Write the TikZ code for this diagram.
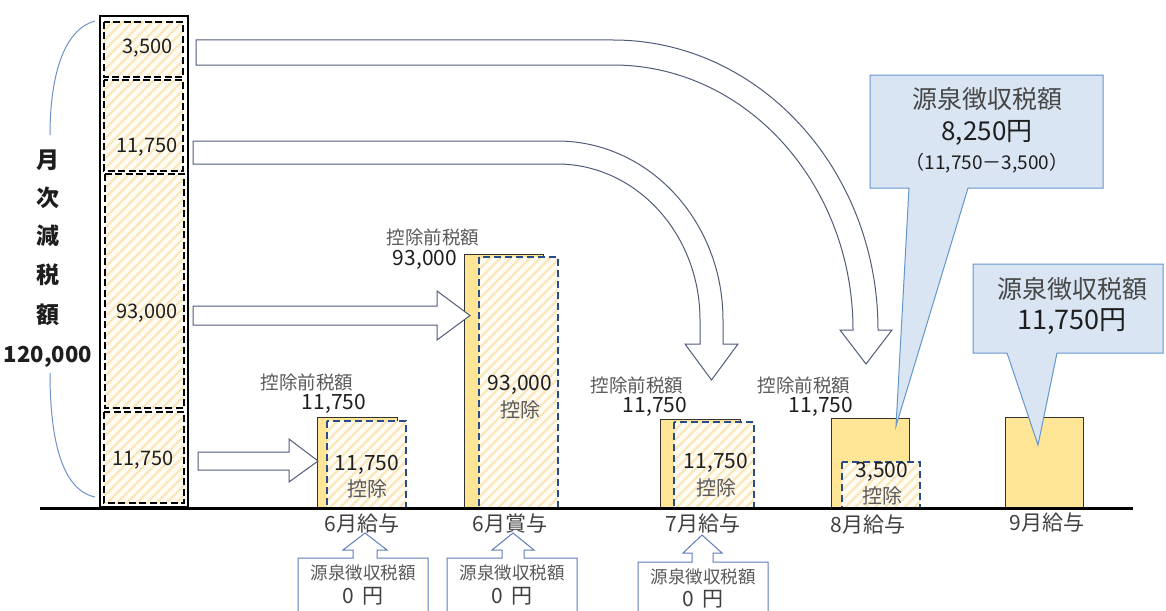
\documentclass[tikz,border=0pt]{standalone}
\usepackage{fontspec}
\setmainfont{Noto Sans CJK JP}
\usetikzlibrary{patterns.meta}
\definecolor{baryel}{RGB}{255,229,150}
\definecolor{cream}{RGB}{255,252,244}
\definecolor{hatchc}{RGB}{250,230,186}
\definecolor{dashblue}{RGB}{40,75,140}
\definecolor{arrowc}{RGB}{80,92,120}
\definecolor{calfill}{RGB}{218,229,243}
\definecolor{caledge}{RGB}{100,150,205}
\definecolor{boxedge}{RGB}{95,125,185}
\definecolor{graytxt}{RGB}{89,89,89}
\definecolor{darktxt}{RGB}{30,30,30}
\definecolor{bracec}{RGB}{110,145,200}
\newcommand\myfs[1]{\fontsize{#1}{#1}\selectfont}
\tikzset{
  yelbar/.style={fill=baryel, draw=black!80, line width=0.8pt},
  hatchbox/.style={preaction={fill=cream}, preaction={pattern={Lines[angle=45,distance=7pt,line width=2.2pt]}, pattern color=hatchc}},
  bluedash/.style={hatchbox, draw=dashblue, line width=2pt, dash pattern=on 7pt off 4pt},
  blackdash/.style={hatchbox, draw=black, line width=2.2pt, dash pattern=on 7pt off 3.5pt},
  blockarrow/.style={draw=arrowc, fill=white, line width=1pt, line join=miter},
  callout/.style={draw=caledge, fill=calfill, line width=1pt, line join=miter},
  upbox/.style={draw=boxedge, fill=white, line width=1pt, line join=miter},
  txt/.style={inner sep=0pt, anchor=center},
  lbl/.style={txt, text=graytxt, font=\myfs{18.5}},
  num/.style={txt, text=darktxt, font=\myfs{21}},
  colnum/.style={txt, anchor=east, text=darktxt, font=\myfs{20}},
  vert/.style={txt, text=darktxt, font=\bfseries\myfs{23}},
  month/.style={txt, text=darktxt!85, font=\myfs{21}},
}
\begin{document}
\begin{tikzpicture}[x=1pt,y=-1pt]
\useasboundingbox (0,0) rectangle (1166,610);
\clip (0,0) rectangle (1166,610);
\fill[white] (0,0) rectangle (1166,610);

% ---------- left column ----------
\draw[black, line width=2.4pt, fill=white] (100,16) rectangle (188,507);
\path[blackdash] (104,22) rectangle (183,77);
\path[blackdash] (104,80) rectangle (183,171);
\path[blackdash] (105,174) rectangle (184,408);
\path[blackdash] (104,412) rectangle (184,503);
\node[colnum] (c1) at (173,48) {3,500};
\node[colnum] (c2) at (178,147) {11,750};
\node[colnum] (c3) at (178,313) {93,000};
\node[colnum] (c4) at (174,460) {11,750};

% brace
\draw[bracec, line width=1pt] (95,21) .. controls (62,30) and (50,80) .. (50,135);
\draw[bracec, line width=1pt] (50,373) .. controls (50,440) and (62,490) .. (95,497);
\node[vert] (v1) at (48,160) {月};
\node[vert] (v2) at (48,198) {次};
\node[vert] (v3) at (48,236) {減};
\node[vert] (v4) at (48,275) {税};
\node[vert] (v5) at (48,315) {額};
\node[vert, font=\bfseries\myfs{22}] (v6) at (48,357) {120,000};

% ---------- bars ----------
% 6月給与
\path[yelbar] (317,417) rectangle (397,508);
\path[bluedash] (327,421) rectangle (406,508);
\node[num] (b1n) at (367,465) {11,750};
\node[lbl, font=\myfs{20}] (b1k) at (367,489) {控除};
\node[lbl] (b1l) at (307,382) {控除前税額};
\node[num] (b1v) at (334,404) {11,750};
% 6月賞与
\path[yelbar] (464,254) rectangle (543,508);
\path[bluedash] (479,257) rectangle (558,508);
\node[num] (b2n) at (520,385) {93,000};
\node[lbl, font=\myfs{20}] (b2k) at (520,410) {控除};
\node[lbl] (b2l) at (433,237) {控除前税額};
\node[num] (b2v) at (425,260) {93,000};
% 7月給与
\path[yelbar] (660,419) rectangle (740,508);
\path[bluedash] (674,422) rectangle (754,508);
\node[num] (b3n) at (716,463) {11,750};
\node[lbl, font=\myfs{20}] (b3k) at (716,488) {控除};
\node[lbl] (b3l) at (637,385) {控除前税額};
\node[num] (b3v) at (655,407) {11,750};
% 8月給与
\path[yelbar] (831,418) rectangle (909,508);
\path[bluedash] (842,462) rectangle (920,508);
\node[num] (b4n) at (882,472) {3,500};
\node[lbl, font=\myfs{20}] (b4k) at (882,496) {控除};
\node[lbl] (b4l) at (804,385) {控除前税額};
\node[num] (b4v) at (821,407) {11,750};
% 9月給与
\path[yelbar] (1005,417) rectangle (1083,508);

% baseline
\coordinate (axL) at (40,508);
\coordinate (axR) at (1133,508);
\draw[black, line width=3pt] (axL) -- (axR);

% month labels
\node[month] (m1) at (362,524) {6月給与};
\node[month] (m2) at (510,524) {6月賞与};
\node[month] (m3) at (703,524) {7月給与};
\node[month] (m4) at (868,525) {8月給与};
\node[month] (m5) at (1047,523) {9月給与};

% ---------- block arrows ----------
% 93,000 -> 6月賞与
\path[blockarrow] (193,306) -- (437,306) -- (437,291) -- (470,315.5) -- (437,340) -- (437,325) -- (193,325) -- cycle;
% 11,750 -> 6月給与
\path[blockarrow] (198,452) -- (289,452) -- (289,439) -- (318,461) -- (289,482) -- (289,470) -- (198,470) -- cycle;
% 3,500 -> 8月給与
\path[blockarrow] (196,40) -- (613,40) .. controls (759.4,40) and (878,169.8) .. (878,330)
   -- (892,330) -- (866,364) -- (840,330) -- (853,330)
   .. controls (853,183.6) and (745.6,65) .. (613,65) -- (196,65) -- cycle;
% 11,750 -> 7月給与
\path[blockarrow] (193,141) -- (557,141) .. controls (648.7,141) and (723,221.1) .. (723,320)
   -- (723,344) -- (738,344) -- (711.5,380) -- (685,344) -- (700,344) -- (700,320)
   .. controls (700,233.8) and (636,164) .. (557,164) -- (193,164) -- cycle;

% ---------- callouts ----------
\path[callout] (870,75) -- (1103,75) -- (1103,188) -- (968,188) -- (896,426) -- (909,188) -- (870,188) -- cycle;
\node[txt, text=graytxt!80!black, font=\myfs{25}] (k1a) at (987,99) {源泉徴収税額};
\node[txt, text=darktxt, font=\myfs{26}] (k1b) at (987,133) {8,250円};
\node[txt, text=darktxt, font=\myfs{19}] (k1c) at (987,163) {（11,750－3,500）};

\path[callout] (973,264) -- (1163,264) -- (1163,353) -- (1057,353) -- (1038,445) -- (1007,353) -- (973,353) -- cycle;
\node[txt, text=graytxt!80!black, font=\myfs{25}] (k2a) at (1072,289) {源泉徴収税額};
\node[txt, text=darktxt, font=\myfs{27}] (k2b) at (1072,322) {11,750円};

% ---------- bottom boxes ----------
\path[upbox] (298,620) -- (298,558) -- (353,558) -- (353,550) -- (343,550) -- (365,533) -- (387,550) -- (377,550) -- (377,558) -- (428,558) -- (428,620);
\node[txt, text=graytxt, font=\myfs{17.5}] (u1a) at (363,573) {源泉徴収税額};
\node[txt, text=darktxt!85, font=\myfs{21}] (u1b) at (363,596) {0\hspace{8pt}円};

\path[upbox] (447,620) -- (447,558) -- (502,558) -- (502,550) -- (492,550) -- (513,533) -- (534,550) -- (524,550) -- (524,558) -- (577,558) -- (577,620);
\node[txt, text=graytxt, font=\myfs{17.5}] (u2a) at (512,573) {源泉徴収税額};
\node[txt, text=darktxt!85, font=\myfs{21}] (u2b) at (512,596) {0\hspace{8pt}円};

\path[upbox] (638,620) -- (638,562) -- (692,562) -- (692,553) -- (683,553) -- (702,535) -- (722,553) -- (713,553) -- (713,562) -- (768,562) -- (768,620);
\node[txt, text=graytxt, font=\myfs{17.5}] (u3a) at (703,577) {源泉徴収税額};
\node[txt, text=darktxt!85, font=\myfs{21}] (u3b) at (703,599) {0\hspace{8pt}円};
\end{tikzpicture}
\end{document}
